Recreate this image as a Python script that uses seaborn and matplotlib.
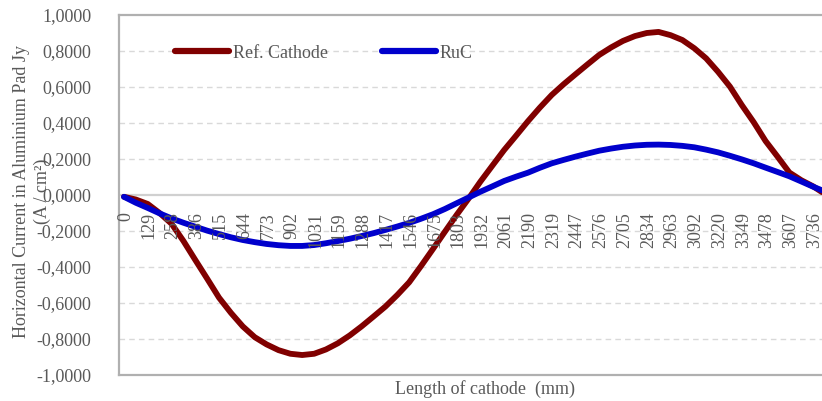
import matplotlib
matplotlib.use("Agg")
import matplotlib.pyplot as plt
import matplotlib.transforms as mtrans
from matplotlib.lines import Line2D
import seaborn as sns
import pandas as pd

# ---- data ----
length_mm = [0, 64, 129, 193, 258, 322, 386, 451, 515, 580, 644, 709, 773, 838, 902, 966,
             1031, 1095, 1159, 1224, 1288, 1353, 1417, 1482, 1546, 1610, 1675, 1739,
             1803, 1868, 1932, 1997, 2061, 2126, 2190, 2254, 2319, 2383, 2447, 2512,
             2576, 2641, 2705, 2770, 2834, 2898, 2963, 3027, 3092, 3156, 3220, 3285,
             3349, 3414, 3478, 3543, 3607, 3672, 3736, 3784]
ref_cathode = [-0.010, -0.025, -0.050, -0.100, -0.160, -0.255, -0.360, -0.465, -0.570,
               -0.655, -0.730, -0.790, -0.830, -0.862, -0.882, -0.889, -0.882, -0.858,
               -0.824, -0.780, -0.730, -0.675, -0.620, -0.555, -0.485, -0.395, -0.300,
               -0.205, -0.111, -0.020, 0.074, 0.163, 0.250, 0.330, 0.410, 0.485, 0.556,
               0.615, 0.670, 0.725, 0.778, 0.820, 0.856, 0.883, 0.900, 0.906, 0.888,
               0.861, 0.815, 0.759, 0.685, 0.602, 0.500, 0.404, 0.300, 0.213, 0.125,
               0.082, 0.048, 0.016]
ruc = [-0.010, -0.043, -0.072, -0.102, -0.130, -0.154, -0.176, -0.198, -0.217, -0.235,
       -0.250, -0.262, -0.272, -0.279, -0.283, -0.283, -0.278, -0.268, -0.256, -0.243,
       -0.228, -0.212, -0.194, -0.175, -0.155, -0.132, -0.107, -0.078, -0.046, -0.014,
       0.018, 0.048, 0.078, 0.102, 0.124, 0.151, 0.176, 0.195, 0.213, 0.230, 0.246,
       0.258, 0.268, 0.275, 0.279, 0.280, 0.278, 0.273, 0.265, 0.252, 0.237, 0.218,
       0.198, 0.176, 0.152, 0.128, 0.104, 0.075, 0.046, 0.026]
tick_labels = ["0", "129", "258", "386", "515", "644", "773", "902", "1031", "1159",
               "1288", "1417", "1546", "1675", "1803", "1932", "2061", "2190", "2319",
               "2447", "2576", "2705", "2834", "2963", "3092", "3220", "3349", "3478",
               "3607", "3736"]
tick_pos = [0, 129, 258, 386, 515, 644, 773, 902, 1031, 1159, 1288, 1417, 1546, 1675,
            1803, 1932, 2061, 2190, 2319, 2447, 2576, 2705, 2834, 2963, 3092, 3220,
            3349, 3478, 3607, 3736]
series_names = ["Ref. Cathode", "RuC"]
colors = ["#800000", "#0000CC"]
y_ticks = [-1.0, -0.8, -0.6, -0.4, -0.2, 0.0, 0.2, 0.4, 0.6, 0.8, 1.0]

df = pd.concat([
    pd.DataFrame({"Length": length_mm, "Jy": ref_cathode, "Series": series_names[0]}),
    pd.DataFrame({"Length": length_mm, "Jy": ruc, "Series": series_names[1]}),
])

sns.set_theme(style="white")
plt.rcParams["font.family"] = ["Liberation Serif", "DejaVu Serif"]
TXT = "#595959"
FS = 13

fig = plt.figure(figsize=(8.22, 4.01), dpi=100)
ax = fig.add_axes([119 / 822, 1 - 375 / 401, 703 / 822, 360 / 401])

sns.lineplot(data=df, x="Length", y="Jy", hue="Series", palette=colors,
             hue_order=series_names, estimator=None, sort=False, linewidth=4.2,
             ax=ax, legend=False, zorder=3)
for ln in ax.get_lines():
    ln.set_solid_capstyle("round")
    ln.set_solid_joinstyle("round")

ax.set_xlim(-27, 3784)
ax.set_ylim(-1.0, 1.0)

# grid
for yv in y_ticks:
    if yv == 0.0:
        ax.axhline(0, color="#d0d0d0", lw=1.6, zorder=2)
    elif abs(yv) < 1:
        ax.axhline(yv, color="#d9d9d9", lw=1.0, ls=(0, (4, 3)), zorder=1)

for s in ["left", "top", "bottom", "right"]:
    ax.spines[s].set_color("#b0b0b0")
    ax.spines[s].set_linewidth(1.6)
ax.spines["right"].set_visible(False)

ax.set_yticks(y_ticks)
ax.set_yticklabels([f"{v:.4f}".replace(".", ",") for v in y_ticks])
ax.tick_params(axis="y", length=0, pad=20, labelsize=FS, labelcolor=TXT)
ax.set_xticks([])
ax.set_xlabel("")

# category labels under the zero line
off = mtrans.offset_copy(ax.transData, fig=fig, x=1.5, y=-17, units="dots")
for xp, lab in zip(tick_pos, tick_labels):
    ax.text(xp, 0, lab, rotation=90, ha="center", va="top", fontsize=FS,
            color=TXT, transform=off)

ax.set_ylabel("Horizontal Current in Aluminium Pad Jy\n(A / cm²)", fontsize=FS,
              color=TXT, linespacing=1.3)
ax.yaxis.label.set(va="center", ha="center")
ax.yaxis.set_label_coords(-87 / 703, 0.51)

fig.text(485 / 822, 1 - 389 / 401, "Length of cathode  (mm)", ha="center",
         va="center", fontsize=FS, color=TXT)

# legend
handles = [Line2D([0], [0], color=c, lw=4.5, solid_capstyle="round") for c in colors]
leg = ax.legend(handles, series_names, loc="center left",
                bbox_to_anchor=(56 / 703, 0.894), ncol=2, frameon=False,
                fontsize=FS, handlelength=3.0, handletextpad=0.2,
                columnspacing=3.0, borderpad=0, borderaxespad=0)
for t in leg.get_texts():
    t.set_color(TXT)

fig.savefig("out.png", dpi=100)
